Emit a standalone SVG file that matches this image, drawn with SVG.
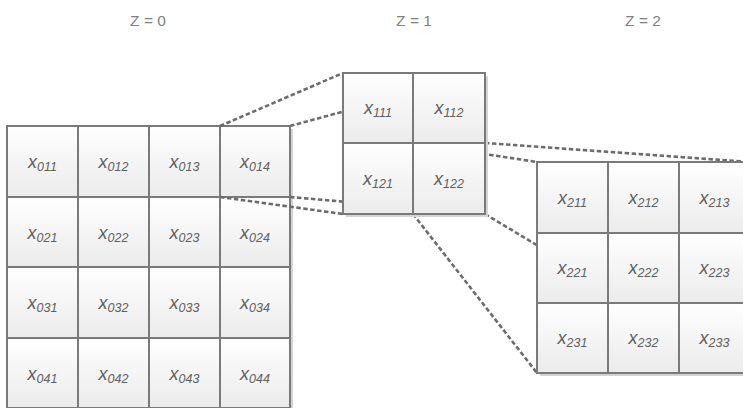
<svg xmlns="http://www.w3.org/2000/svg" width="743" height="408" viewBox="0 0 743 408">
<defs>
<linearGradient id="cg" x1="0" y1="0" x2="0" y2="1">
<stop offset="0" stop-color="#ffffff"/>
<stop offset="1" stop-color="#ebebeb"/>
</linearGradient>
</defs>
<style>
.sh{fill:#d4d4d4;}
.c{fill:url(#cg);stroke:#7a7a7a;stroke-width:2;}
.t{font-family:"Liberation Sans",Arial,sans-serif;font-style:italic;font-size:18px;fill:#606060;text-anchor:middle;}
.s{font-size:12.5px;}
.z{font-family:"Liberation Sans",Arial,sans-serif;font-size:15.5px;fill:#808080;text-anchor:middle;}
.d{stroke:#6c6c6c;stroke-width:2.6;stroke-dasharray:4.5 2.5;fill:none;}
</style>
<rect width="743" height="408" fill="#ffffff"/>
<g id="labels">
<text class="z" x="148" y="26">Z = 0</text>
<text class="z" x="414" y="26">Z = 1</text>
<text class="z" x="643" y="26">Z = 2</text>
</g>
<g id="grid-z0">
<rect class="sh" x="10" y="129" width="283" height="283"/>
<g id="x011"><rect class="c" x="7" y="126" width="71" height="71"/><text class="t" x="42.5" y="168">x<tspan class="s" dy="2.5">011</tspan></text></g>
<g id="x012"><rect class="c" x="78" y="126" width="71" height="71"/><text class="t" x="113.5" y="168">x<tspan class="s" dy="2.5">012</tspan></text></g>
<g id="x013"><rect class="c" x="149" y="126" width="71" height="71"/><text class="t" x="184.5" y="168">x<tspan class="s" dy="2.5">013</tspan></text></g>
<g id="x014"><rect class="c" x="220" y="126" width="70" height="71"/><text class="t" x="255" y="168">x<tspan class="s" dy="2.5">014</tspan></text></g>
<g id="x021"><rect class="c" x="7" y="197" width="71" height="70"/><text class="t" x="42.5" y="239">x<tspan class="s" dy="2.5">021</tspan></text></g>
<g id="x022"><rect class="c" x="78" y="197" width="71" height="70"/><text class="t" x="113.5" y="239">x<tspan class="s" dy="2.5">022</tspan></text></g>
<g id="x023"><rect class="c" x="149" y="197" width="71" height="70"/><text class="t" x="184.5" y="239">x<tspan class="s" dy="2.5">023</tspan></text></g>
<g id="x024"><rect class="c" x="220" y="197" width="70" height="70"/><text class="t" x="255" y="239">x<tspan class="s" dy="2.5">024</tspan></text></g>
<g id="x031"><rect class="c" x="7" y="267" width="71" height="71"/><text class="t" x="42.5" y="309">x<tspan class="s" dy="2.5">031</tspan></text></g>
<g id="x032"><rect class="c" x="78" y="267" width="71" height="71"/><text class="t" x="113.5" y="309">x<tspan class="s" dy="2.5">032</tspan></text></g>
<g id="x033"><rect class="c" x="149" y="267" width="71" height="71"/><text class="t" x="184.5" y="309">x<tspan class="s" dy="2.5">033</tspan></text></g>
<g id="x034"><rect class="c" x="220" y="267" width="70" height="71"/><text class="t" x="255" y="309">x<tspan class="s" dy="2.5">034</tspan></text></g>
<g id="x041"><rect class="c" x="7" y="338" width="71" height="70"/><text class="t" x="42.5" y="380">x<tspan class="s" dy="2.5">041</tspan></text></g>
<g id="x042"><rect class="c" x="78" y="338" width="71" height="70"/><text class="t" x="113.5" y="380">x<tspan class="s" dy="2.5">042</tspan></text></g>
<g id="x043"><rect class="c" x="149" y="338" width="71" height="70"/><text class="t" x="184.5" y="380">x<tspan class="s" dy="2.5">043</tspan></text></g>
<g id="x044"><rect class="c" x="220" y="338" width="70" height="70"/><text class="t" x="255" y="380">x<tspan class="s" dy="2.5">044</tspan></text></g>
</g>
<g id="connectors">
<line class="d" x1="220" y1="126" x2="343" y2="73"/>
<line class="d" x1="290" y1="126" x2="485" y2="73"/>
<line class="d" x1="220" y1="197" x2="343" y2="214"/>
<line class="d" x1="290" y1="197" x2="485" y2="214"/>
<line class="d" x1="413" y1="143" x2="537" y2="162"/>
<line class="d" x1="485" y1="143" x2="750" y2="162"/>
<line class="d" x1="413" y1="214" x2="537" y2="373"/>
<line class="d" x1="485" y1="214" x2="750" y2="373"/>
</g>
<g id="grid-z1">
<rect class="sh" x="346" y="76" width="142" height="141"/>
<g id="x111"><rect class="c" x="343" y="73" width="70" height="70"/><text class="t" x="378" y="114">x<tspan class="s" dy="2.5">111</tspan></text></g>
<g id="x112"><rect class="c" x="413" y="73" width="72" height="70"/><text class="t" x="449" y="114">x<tspan class="s" dy="2.5">112</tspan></text></g>
<g id="x121"><rect class="c" x="343" y="143" width="70" height="71"/><text class="t" x="378" y="185">x<tspan class="s" dy="2.5">121</tspan></text></g>
<g id="x122"><rect class="c" x="413" y="143" width="72" height="71"/><text class="t" x="449" y="185">x<tspan class="s" dy="2.5">122</tspan></text></g>
</g>
<g id="grid-z2">
<rect class="sh" x="540" y="165" width="213" height="211"/>
<g id="x211"><rect class="c" x="537" y="162" width="71" height="71"/><text class="t" x="572.5" y="204">x<tspan class="s" dy="2.5">211</tspan></text></g>
<g id="x212"><rect class="c" x="608" y="162" width="71" height="71"/><text class="t" x="643.5" y="204">x<tspan class="s" dy="2.5">212</tspan></text></g>
<g id="x213"><rect class="c" x="679" y="162" width="71" height="71"/><text class="t" x="714.5" y="204">x<tspan class="s" dy="2.5">213</tspan></text></g>
<g id="x221"><rect class="c" x="537" y="233" width="71" height="70"/><text class="t" x="572.5" y="274">x<tspan class="s" dy="2.5">221</tspan></text></g>
<g id="x222"><rect class="c" x="608" y="233" width="71" height="70"/><text class="t" x="643.5" y="274">x<tspan class="s" dy="2.5">222</tspan></text></g>
<g id="x223"><rect class="c" x="679" y="233" width="71" height="70"/><text class="t" x="714.5" y="274">x<tspan class="s" dy="2.5">223</tspan></text></g>
<g id="x231"><rect class="c" x="537" y="303" width="71" height="70"/><text class="t" x="572.5" y="344">x<tspan class="s" dy="2.5">231</tspan></text></g>
<g id="x232"><rect class="c" x="608" y="303" width="71" height="70"/><text class="t" x="643.5" y="344">x<tspan class="s" dy="2.5">232</tspan></text></g>
<g id="x233"><rect class="c" x="679" y="303" width="71" height="70"/><text class="t" x="714.5" y="344">x<tspan class="s" dy="2.5">233</tspan></text></g>
</g>
</svg>
